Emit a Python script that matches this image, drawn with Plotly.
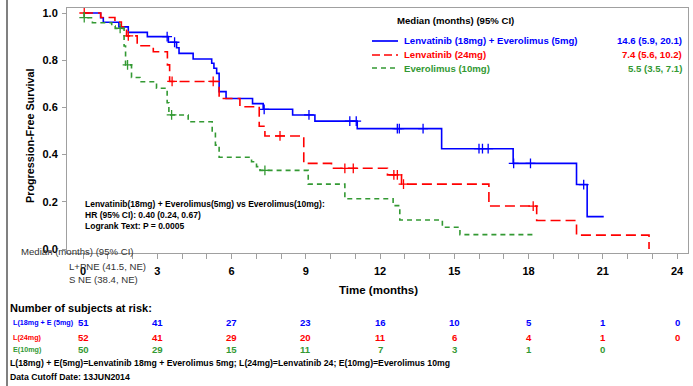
import plotly.graph_objects as go

# ---------------- data ----------------
# Lenvatinib 18mg + Everolimus 5mg  (blue)
le_times = [0, 0.71, 0.82, 1.45, 1.83, 2.60, 3.45, 3.78, 3.88, 4.45, 5.20, 5.29, 5.40, 5.50,
            5.78, 6.85, 7.28, 8.47, 9.37, 11.08, 14.49, 17.38, 19.94, 20.37, 21.04]
le_surv = [1.0, 0.980, 0.961, 0.941, 0.918, 0.900, 0.876, 0.853, 0.829, 0.805, 0.787, 0.766, 0.744, 0.667,
           0.638, 0.616, 0.592, 0.568, 0.542, 0.510, 0.425, 0.363, 0.273, 0.137, 0.137]
le_censor = [3.40, 3.70, 7.32, 9.13, 10.78, 11.04, 12.70, 12.78, 13.74, 16.00, 16.14, 16.37, 17.40, 18.08, 20.23]

# Lenvatinib 24mg  (red)
l_times = [0, 0.72, 1.29, 1.55, 1.76, 2.19, 2.84, 3.41, 3.50, 5.50, 6.34, 7.12, 7.35, 8.92, 10.04,
           12.30, 12.87, 16.40, 18.33, 19.94, 22.87]
l_surv = [1.0, 0.981, 0.962, 0.942, 0.903, 0.861, 0.836, 0.780, 0.710, 0.638, 0.603, 0.520, 0.479, 0.363, 0.342,
          0.314, 0.275, 0.182, 0.121, 0.059, 0.0]
l_censor = [0.05, 1.83, 3.60, 5.26, 7.96, 10.58, 10.92, 12.56, 12.70, 12.95, 18.19]

# Everolimus 10mg  (green)
e_times = [0, 0.05, 0.38, 1.16, 1.30, 1.66, 1.72, 1.96, 2.30, 2.97, 3.40, 3.47, 4.25, 5.22, 5.35, 5.50,
           6.81, 7.01, 7.15, 9.10, 10.58, 12.53, 12.80, 14.52, 15.23, 18.30]
e_surv = [1.0, 0.980, 0.959, 0.945, 0.935, 0.860, 0.780, 0.727, 0.709, 0.681, 0.620, 0.568, 0.539, 0.490, 0.440, 0.389,
          0.370, 0.349, 0.333, 0.275, 0.213, 0.184, 0.123, 0.092, 0.061, 0.061]
e_censor = [0.05, 1.50, 1.80, 3.58, 7.35]

arm_names = ["Lenvatinib (18mg) + Everolimus (5mg)", "Lenvatinib (24mg)", "Everolimus (10mg)"]
arm_medians = ["14.6 (5.9, 20.1)", "7.4 (5.6, 10.2)", "5.5 (3.5, 7.1)"]
risk_labels = ["L(18mg + E (5mg)", "L(24mg)", "E(10mg)"]
risk_times = [0, 3, 6, 9, 12, 15, 18, 21, 24]
risk_le = [51, 41, 27, 23, 16, 10, 5, 1, 0]
risk_l = [52, 41, 29, 20, 11, 6, 4, 1, 0]
risk_e = [50, 29, 15, 11, 7, 3, 1, 0]
x_ticks = [0, 3, 6, 9, 12, 15, 18, 21, 24]
y_ticks = [0.0, 0.2, 0.4, 0.6, 0.8, 1.0]

# ---------------- styling ----------------
FONT = "Liberation Sans, Arial, sans-serif"
BLUE = "#0000ff"
RED = "#ff0000"
GREEN = "#339933"
FRAME = "#a0a0a0"

W, H = 693, 386
PL, PR, PT, PB = 67, 688, 8, 253  # plot area in pixels


def px(x):
    return (x - PL) / (PR - PL)


def py(y):
    return (PB - y) / (PB - PT)


def step_value(times, surv, t):
    v = surv[0]
    for ti, si in zip(times, surv):
        if ti <= t:
            v = si
    return v


fig = go.Figure()

arms = [
    (le_times, le_surv, le_censor, BLUE, "solid", 1.6),
    (l_times, l_surv, l_censor, RED, "10px,5px", 1.6),
    (e_times, e_surv, e_censor, GREEN, "5px,4px", 1.6),
]
for times, surv, cens, color, dash, width in arms:
    fig.add_trace(go.Scatter(
        x=times, y=surv, mode="lines",
        line=dict(color=color, dash=dash, width=width, shape="hv"),
        hoverinfo="skip", showlegend=False))
    fig.add_trace(go.Scatter(
        x=cens, y=[step_value(times, surv, t) for t in cens], mode="markers",
        marker=dict(symbol="cross-thin", size=7, color=color, line=dict(color=color, width=1.3)),
        hoverinfo="skip", showlegend=False))

# x range so that 0 sits at pixel 83 and 24 at pixel 677
x_per_px = 24 / (677 - 83)
x_lo = 0 - (83 - PL) * x_per_px
x_hi = 24 + (PR - 677) * x_per_px
# y range so that 1.0 sits at pixel 13 and 0.0 at pixel 249
y_per_px = 1.0 / (249 - 13)
y_lo = 0 - (PB - 249) * y_per_px
y_hi = 1.0 + (13 - PT) * y_per_px

fig.update_layout(
    width=W, height=H,
    margin=dict(l=PL, r=W - PR, t=PT, b=H - PB, pad=0),
    paper_bgcolor="white", plot_bgcolor="white",
    font=dict(family=FONT, color="black"),
    showlegend=False,
    xaxis=dict(
        range=[x_lo, x_hi], tickmode="array", tickvals=x_ticks,
        ticktext=[str(v) for v in x_ticks],
        ticks="outside", ticklen=5, tickcolor=FRAME, tickwidth=1,
        tickfont=dict(size=11, family=FONT, weight="bold", color="black"),
        ticklabelstandoff=3,
        minor=dict(tickmode="linear", tick0=0, dtick=1, ticks="outside", ticklen=5,
                   tickcolor=FRAME, showgrid=False),
        showline=True, linecolor=FRAME, linewidth=1, mirror=True,
        showgrid=False, zeroline=False,
    ),
    yaxis=dict(
        range=[y_lo, y_hi], tickmode="array", tickvals=y_ticks,
        ticktext=[f"{v:.1f}" for v in y_ticks],
        ticks="outside", ticklen=4, tickcolor=FRAME, tickwidth=1,
        tickfont=dict(size=11, family=FONT, weight="bold", color="black"),
        ticklabelstandoff=2,
        showline=True, linecolor=FRAME, linewidth=1, mirror=True,
        showgrid=False, zeroline=False,
    ),
)

ann = []


def text(x, y, s, size, color="black", bold=True, xanchor="left", angle=0):
    ann.append(dict(
        x=px(x), y=py(y), xref="paper", yref="paper", text=s, showarrow=False,
        xanchor=xanchor, yanchor="middle", textangle=angle,
        font=dict(family=FONT, size=size, color=color, weight="bold" if bold else "normal")))


# axis titles
text(30, 136, "Progression-Free Survival", 10.8, xanchor="center", angle=-90)
text(378, 290, "Time (months)", 11.5, xanchor="center")

# legend block
text(455, 20, "Median (months) (95% CI)", 9.6, xanchor="center")
leg_y = [41, 55, 68]
leg_colors = [BLUE, RED, GREEN]
leg_dash = ["solid", "8px,4px", "5px,4px"]
shapes = []
for i in range(3):
    shapes.append(dict(type="line", xref="paper", yref="paper",
                       x0=px(372), x1=px(398), y0=py(leg_y[i]), y1=py(leg_y[i]),
                       line=dict(color=leg_colors[i], width=1.7, dash=leg_dash[i])))
    text(402, leg_y[i], arm_names[i], 9.6, color=leg_colors[i])
    text(684, leg_y[i], arm_medians[i], 9.6, color=leg_colors[i], xanchor="right")

# hazard ratio text
text(83, 204, "Lenvatinib(18mg) + Everolimus(5mg) vs Everolimus(10mg):", 8.5)
text(83, 215, "HR (95% CI): 0.40 (0.24, 0.67)", 8.5)
text(83, 226, "Logrank Text: P = 0.0005", 8.5)

# overlapping leftover texts
text(19, 251, "Median (months) (95% CI)", 9.6, color="#333333", bold=False)
text(67, 266, "L+PNE (41.5, NE)", 9.6, color="#333333", bold=False)
text(67, 279, "S NE (38.4, NE)", 9.6, color="#333333", bold=False)

# risk table
text(8, 308, "Number of subjects at risk:", 11)
row_y = [323, 337, 350]
rows = [risk_le, risk_l, risk_e]
for i in range(3):
    text(11, row_y[i], risk_labels[i], 7.2, color=leg_colors[i])
    for t, n in zip(risk_times, rows[i]):
        ann.append(dict(
            x=t, y=py(row_y[i]), xref="x", yref="paper", text=str(n), showarrow=False,
            xanchor="center", yanchor="middle",
            font=dict(family=FONT, size=9.6, color=leg_colors[i], weight="bold")))

text(8, 363, "L(18mg) + E(5mg)=Lenvatinib 18mg + Everolimus 5mg; L(24mg)=Lenvatinib 24; E(10mg)=Everolimus 10mg", 8.7)
text(8, 377, "Data Cutoff Date: 13JUN2014", 8.7)

# left frame line
shapes.append(dict(type="line", xref="paper", yref="paper",
                   x0=px(7), x1=px(7), y0=py(0), y1=py(386),
                   line=dict(color="#808080", width=2)))

fig.update_layout(annotations=ann, shapes=shapes)
fig.write_html(
    "out.html",
    config={"displayModeBar": False},
    post_script="document.body.style.margin='0px';document.body.style.overflow='hidden';",
)
